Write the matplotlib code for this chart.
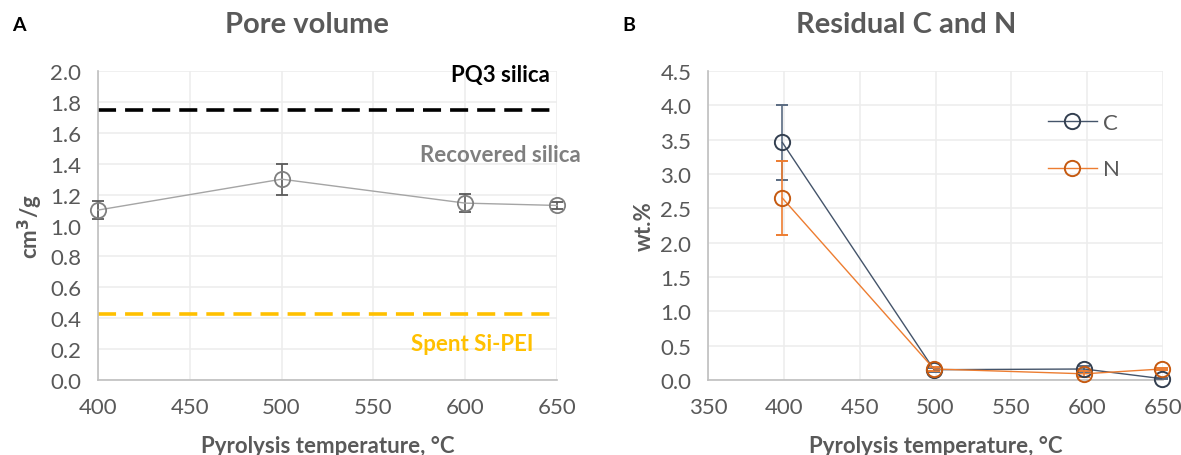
import numpy as np
import matplotlib.pyplot as plt

################################
# Data
################################
# Panel A - pore volume
temp_a = [400, 500, 600, 650]
pore_volume = [1.10, 1.30, 1.145, 1.13]
pore_err = [0.06, 0.10, 0.06, 0.02]
pq3_level = 1.75
spent_level = 0.43

# Panel B - residual C and N
temp_b = [399, 499, 598, 649]
carbon = [3.46, 0.15, 0.16, 0.02]
carbon_err = [0.54, 0.03, 0.05, 0.01]
nitrogen = [2.65, 0.16, 0.09, 0.16]
nitrogen_err = [0.54, 0.03, 0.04, 0.02]

################################
# Style
################################
plt.rcParams['font.family'] = ['Lato', 'DejaVu Sans']
grey_txt = '#595959'
grid_c = '#EDEDED'
spine_c = '#BFBFBF'
navy = '#44546A'
orange_line = '#ED7D31'
orange_mark = '#C55A11'
tick_fs = 16
lab_fs = 16

fig = plt.figure(figsize=(11.81, 4.56), dpi=100)
ax_a = fig.add_axes([0.083, 0.1645, 0.3886, 0.6775])
ax_b = fig.add_axes([0.5995, 0.1645, 0.3853, 0.6775])


def style_axes(ax):
    for s in ['top', 'right']:
        ax.spines[s].set_visible(False)
    for s in ['left', 'bottom']:
        ax.spines[s].set_color(spine_c)
        ax.spines[s].set_linewidth(1.2)
    ax.grid(True, color=grid_c, linewidth=1.2)
    ax.set_axisbelow(True)
    ax.tick_params(length=0, labelsize=tick_fs, colors=grey_txt, pad=12)
    ax.tick_params(axis='x', pad=12)


def no_clip(container):
    for art in container.get_children():
        art.set_clip_on(False)


################################
# Panel A
################################
ax_a.axhline(pq3_level, color='black', linestyle=(0, (5, 2.5)), linewidth=2.6)
ax_a.axhline(spent_level, color='#FFC000', linestyle=(0, (5, 2.5)), linewidth=2.6)
eb = ax_a.errorbar(temp_a, pore_volume, yerr=pore_err, color='#A5A5A5', linewidth=1,
                   marker='o', markersize=11, markerfacecolor='none',
                   markeredgecolor='#7F7F7F', markeredgewidth=1.3,
                   ecolor='#595959', elinewidth=1.2, capsize=4, capthick=1.2, zorder=3)
no_clip(eb)
ax_a.set_xlim(400, 650)
ax_a.set_ylim(0, 2.0)
ax_a.set_xticks(np.arange(400, 651, 50))
ax_a.set_yticks(np.arange(0, 2.01, 0.2))
ax_a.yaxis.set_major_formatter(plt.FormatStrFormatter('%.1f'))
style_axes(ax_a)
ax_a.text(619, 1.975, 'PQ3 silica', fontsize=lab_fs, fontweight='bold', color='black',
          ha='center', va='center')
ax_a.text(619, 1.46, 'Recovered silica', fontsize=lab_fs, fontweight='bold', color='#7F7F7F',
          ha='center', va='center')
ax_a.text(604, 0.235, 'Spent Si-PEI', fontsize=lab_fs, fontweight='bold', color='#FFC000',
          ha='center', va='center')
ax_a.set_ylabel('cm$^\\mathbf{3}$/g', fontsize=lab_fs, fontweight='bold', color=grey_txt,
                labelpad=4)
ax_a.set_xlabel('Pyrolysis temperature, °C', fontsize=lab_fs, fontweight='bold',
                color=grey_txt, labelpad=13)

################################
# Panel B
################################
eb_c = ax_b.errorbar(temp_b, carbon, yerr=carbon_err, color=navy, linewidth=1,
                     marker='o', markersize=11, markerfacecolor='none',
                     markeredgecolor='#333F50', markeredgewidth=1.4,
                     ecolor='#5A6B82', elinewidth=1.2, capsize=4, capthick=1.2,
                     label='C', zorder=3)
eb_n = ax_b.errorbar(temp_b, nitrogen, yerr=nitrogen_err, color=orange_line, linewidth=1,
                     marker='o', markersize=11, markerfacecolor='none',
                     markeredgecolor=orange_mark, markeredgewidth=1.4,
                     ecolor=orange_line, elinewidth=1.2, capsize=4, capthick=1.2,
                     label='N', zorder=3)
no_clip(eb_c)
no_clip(eb_n)
ax_b.set_xlim(350, 650)
ax_b.set_ylim(0, 4.5)
ax_b.set_xticks(np.arange(350, 651, 50))
ax_b.set_yticks(np.arange(0, 4.51, 0.5))
ax_b.yaxis.set_major_formatter(plt.FormatStrFormatter('%.1f'))
style_axes(ax_b)
handles, labels = ax_b.get_legend_handles_labels()
handles = [h[0] for h in handles]
ax_b.legend(handles, labels, loc='upper right', bbox_to_anchor=(0.95, 0.93),
            frameon=False, fontsize=lab_fs, labelcolor=grey_txt, handlelength=2.2,
            labelspacing=1.2, handletextpad=0.3)
ax_b.set_ylabel('wt.%', fontsize=lab_fs, fontweight='bold', color=grey_txt, labelpad=4)
ax_b.set_xlabel('Pyrolysis temperature, °C', fontsize=lab_fs, fontweight='bold',
                color=grey_txt, labelpad=13)

# titles and panel letters
fig.text(0.260, 0.945, 'Pore volume', fontsize=21, fontweight='bold', color=grey_txt,
         ha='center', va='center')
fig.text(0.767, 0.945, 'Residual C and N', fontsize=21, fontweight='bold', color=grey_txt,
         ha='center', va='center')
fig.text(0.010, 0.945, 'A', fontsize=14, fontweight='bold', color='black', va='center')
fig.text(0.527, 0.945, 'B', fontsize=14, fontweight='bold', color='black', va='center')

fig.savefig('out.png', dpi=100)
